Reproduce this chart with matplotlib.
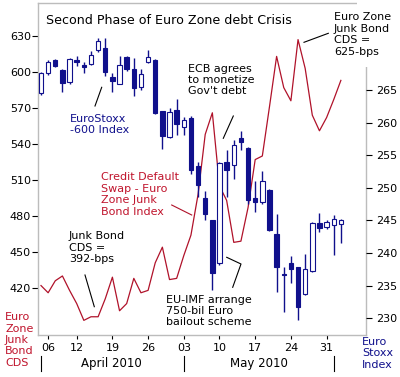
import numpy as np
import matplotlib
matplotlib.use('Agg')
import matplotlib.pyplot as plt
from matplotlib.lines import Line2D
from matplotlib.patches import Rectangle

W, H = 400, 377

# trading days 1 Apr 2010 - 2 Jun 2010, plotted by index
day_ticks = [1, 5, 10, 15, 20, 25, 30, 35, 40]
day_labels = ['06', '12', '19', '26', '03', '10', '17', '24', '31']
month_labels = ['April 2010', 'May 2010']
month_centers = [9.9, 30.5]
month_starts = [0, 20, 41]

# Euro Zone junk bond CDS (bps), left scale
cds = [422, 416, 426, 430, 418, 407, 393, 396, 396, 411,
       429, 401, 407, 428, 416, 418, 441, 454, 427, 428,
       447, 464, 498, 548, 566, 505, 493, 458, 459, 487,
       527, 530, 571, 613, 587, 576, 627, 603, 564, 551,
       562, 577, 593]

# EuroStoxx-600 daily candles, right scale
opens = [264.5, 267.6, 269.6, 268.1, 266.2, 269.6, 268.8, 269.0, 271.2, 271.5,
         267.0, 265.9, 270.1, 268.3, 265.5, 269.3, 269.7, 261.8, 257.8, 261.9,
         259.4, 260.7, 253.3, 248.4, 245.0, 238.4, 254.0, 253.5, 257.7, 256.2,
         248.4, 247.8, 249.6, 242.9, 236.8, 238.4, 237.8, 233.7, 237.2, 244.6,
         244.0, 244.3, 244.4]
highs = [267.8, 269.7, 269.8, 268.3, 270.0, 270.2, 269.3, 271.1, 273.0, 273.0,
         267.6, 270.2, 270.2, 269.9, 268.3, 271.2, 269.8, 261.8, 262.3, 263.6,
         260.9, 261.0, 254.0, 249.5, 245.1, 254.0, 255.8, 257.3, 258.7, 256.3,
         251.0, 252.6, 249.8, 246.0, 237.8, 239.5, 237.9, 239.8, 244.7, 246.1,
         245.0, 245.8, 245.2]
lows = [264.3, 267.4, 268.5, 264.8, 266.0, 268.7, 267.6, 268.8, 270.9, 267.2,
        264.7, 265.9, 268.0, 264.1, 265.0, 269.2, 261.3, 256.0, 257.6, 258.1,
        258.1, 252.2, 248.6, 245.1, 234.3, 238.2, 248.6, 251.4, 255.8, 247.6,
        246.3, 247.6, 243.3, 234.0, 230.9, 235.4, 229.7, 233.6, 237.1, 243.2,
        243.7, 239.7, 241.5]
closes = [267.6, 269.3, 268.7, 266.1, 269.8, 269.4, 268.6, 270.4, 272.6, 267.8,
          266.4, 268.8, 268.2, 265.3, 267.5, 270.1, 261.5, 257.9, 261.6, 259.8,
          260.4, 252.7, 250.4, 246.0, 236.9, 253.8, 252.8, 256.6, 257.1, 248.1,
          247.8, 251.0, 243.5, 237.8, 236.6, 237.6, 231.7, 237.5, 244.6, 243.8,
          244.7, 245.2, 245.0]

navy = '#10108c'
red = '#b0122a'
red_text = '#c0142c'
grey = '#bcbcbc'
fs = 8

plt.rcParams['font.family'] = 'DejaVu Sans'

fig = plt.figure(figsize=(W / 100, H / 100), dpi=100)
ax = fig.add_axes([38 / W, 1 - 335 / H, (366 - 38) / W, (335 - 3) / H])
ax2 = ax.twinx()

x = np.arange(len(cds))

# CDS line
ax.plot(x, cds, color=red, lw=0.9)
ax.set_xlim(-0.42, 45.52)
ax.set_ylim(380.8, 657.5)

# candles
o = np.array(opens)
c = np.array(closes)
up = c > o
ax2.vlines(x, lows, highs, color=navy, lw=1.0, zorder=1)
body_bottom = np.minimum(o, c)
body_height = np.maximum(np.abs(c - o), 0.22)
ax2.bar(x, body_height, 0.62, bottom=body_bottom,
        color=np.where(up, 'white', navy), edgecolor=navy, linewidth=0.8, zorder=2)
ax2.set_ylim(227.4, 278.4)

# axes styling
for a in (ax, ax2):
    for s in a.spines.values():
        s.set_visible(False)
for name in ('left', 'bottom', 'top', 'right'):
    ax.spines[name].set_visible(True)
    ax.spines[name].set_color(grey)
    ax.spines[name].set_linewidth(1)

ax.set_yticks(range(420, 631, 30))
ax.tick_params(axis='y', length=4, width=0.8, color='black', labelsize=fs, pad=1)
ax2.set_yticks(range(230, 266, 5))
ax2.tick_params(axis='y', length=4, width=0.8, color='black', labelsize=fs, pad=3)
ax.set_xticks(day_ticks)
ax.set_xticklabels(day_labels)
ax.tick_params(axis='x', length=3, width=0.8, color='black', labelsize=fs, pad=3)

# months under the day labels
trans = ax.get_xaxis_transform()
for lab, xc in zip(month_labels, month_centers):
    ax.text(xc, -0.087, lab, transform=trans, ha='center', va='center', fontsize=8.5)
for xs in month_starts:
    ax.plot([xs, xs], [-0.063, -0.108], transform=trans, color='black', lw=0.8, clip_on=False)


def px(xp, yp):
    return xp / W, 1 - yp / H


def note(xp, yp, s, color='black', size=fs):
    fx, fy = px(xp, yp)
    fig.text(fx, fy, s, color=color, fontsize=size, ha='left', va='center',
             linespacing=1.18, zorder=6)


def pointer(pts, color='black'):
    xs = [p[0] / W for p in pts]
    ys = [1 - p[1] / H for p in pts]
    fig.add_artist(Line2D(xs, ys, color=color, lw=0.8, transform=fig.transFigure, zorder=6))


# white patch hiding the frame corner behind the 625-bps note
fig.add_artist(Rectangle(px(357, 67), (W - 357) / W, 67 / H, transform=fig.transFigure,
                         facecolor='white', edgecolor='none', zorder=5))

note(46.5, 20, 'Second Phase of Euro Zone debt Crisis', size=9.1)
note(70, 124.5, 'EuroStoxx\n-600 Index', color=navy)
pointer([(101.7, 87.3), (95, 106)])
note(188, 80, "ECB agrees\nto monetize\nGov't debt")
pointer([(233.3, 116), (223.3, 138.3)])
note(334, 34.5, 'Euro Zone\nJunk Bond\nCDS =\n625-bps')
pointer([(328.3, 33.3), (304, 42.3)])
note(101.5, 194.5, 'Credit Default\nSwap - Euro\nZone Junk\nBond Index', color=red_text)
pointer([(171.7, 205), (191.7, 215)], color=red)
note(69, 247.7, 'Junk Bond\nCDS =\n392-bps')
pointer([(85, 275), (94.3, 306.7)])
note(166, 311, 'EU-IMF arrange\n750-bil Euro\nbailout scheme')
pointer([(226.7, 257.3), (241, 264), (232.7, 287.3)])
note(5, 340, 'Euro\nZone\nJunk\nBond\nCDS', color=red_text)
note(362, 353.3, 'Euro\nStoxx\nIndex', color=navy)

fig.savefig('out.png', dpi=100, facecolor='white')
